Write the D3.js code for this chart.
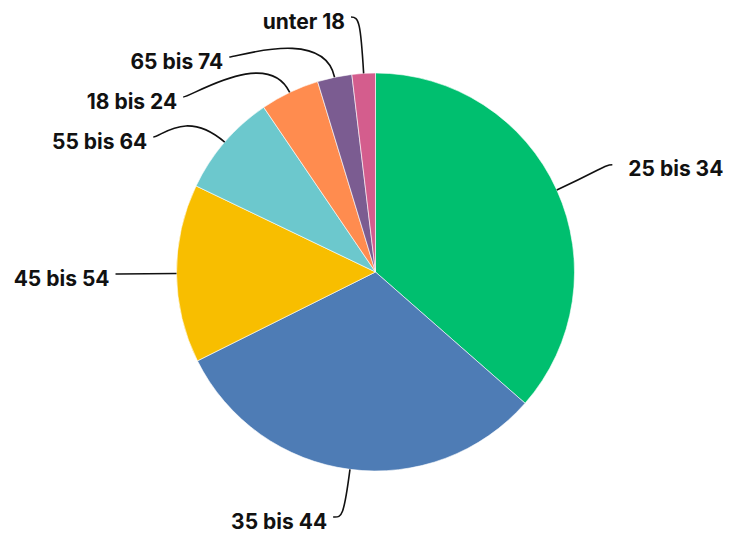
<!DOCTYPE html>
<html>
<head>
  <meta charset="utf-8">
  <style>
    body {margin: 0; background: #fff;}
    svg {display: block;}
    .label {font: 700 21px Inter, "Noto Sans", sans-serif; fill: #111;}
    .leader {fill: none; stroke: #111; stroke-width: 1.6;}
  </style>
</head>
<body>
  <svg width="729" height="539"></svg>
  <script src="https://cdn.jsdelivr.net/npm/d3@7"></script>
  <script>
    // age groups and share in percent
    var groups = ["25 bis 34", "35 bis 44", "45 bis 54", "55 bis 64", "18 bis 24", "65 bis 74", "unter 18"];
    var shares = [36.5, 31.2, 14.5, 8.4, 4.8, 2.8, 1.9];
    var colours = ["#00bf6f", "#4e7cb5", "#f8be00", "#6cc8cd", "#ff8c4f", "#7b5c91", "#d45d8d"];

    var svg = d3.select("svg"),
        cx = 375.5, cy = 272, r = 199,
        rEnd = 260,     // radius where leader lines end
        gap = 40,       // minimum vertical gap between labels
        g = svg.append("g").attr("transform", "translate(" + cx + "," + cy + ")");

    var data = groups.map(function(d, i) { return {name: d, value: shares[i], colour: colours[i]}; });

    var pie = d3.pie().value(function(d) { return d.value; }).sort(null);
    var arc = d3.arc().innerRadius(0).outerRadius(r);
    var arcs = pie(data);

    g.selectAll("path.slice")
        .data(arcs)
      .enter().append("path")
        .attr("class", "slice")
        .attr("d", arc)
        .attr("fill", function(d) { return d.data.colour; })
        .attr("stroke", "#fff")
        .attr("stroke-width", 0.6);

    // label layout: natural spot on circle rEnd, then push apart on each side
    arcs.forEach(function(d) {
      d.mid = (d.startAngle + d.endAngle) / 2;
      d.side = Math.sin(d.mid) >= 0 ? 1 : -1;
      d.ly = -rEnd * Math.cos(d.mid);
      d.lx = rEnd * Math.sin(d.mid);
    });
    var yMin = -cy + 17, yMax = 539 - cy - 22;
    [1, -1].forEach(function(side) {
      var s = arcs.filter(function(d) { return d.side === side; })
                  .sort(function(a, b) { return a.ly - b.ly; });
      var prev = -Infinity;
      s.forEach(function(d) {
        var y = Math.max(d.ly, prev + gap);
        if (y !== d.ly && d.ly < 0 && Math.abs(y) < rEnd) {
          // pushed down by a neighbour: slide along the circle
          d.lx = side * Math.sqrt(rEnd * rEnd - y * y);
        } else if (y < yMin || y > yMax) {
          // clamped at the edge: leave room for the hook
          d.lx += side * 9;
        }
        d.ly = Math.min(Math.max(y, yMin), yMax);
        prev = d.ly;
      });
    });

    g.selectAll("path.leader")
        .data(arcs)
      .enter().append("path")
        .attr("class", "leader")
        .attr("d", function(d) {
          var sx = Math.sin(d.mid), sy = -Math.cos(d.mid),
              p0 = [r * sx, r * sy],
              c1 = [250 * sx, 250 * sy],
              c2 = [d.lx - d.side * 8, d.ly];
          var p = d3.path();
          p.moveTo(p0[0], p0[1]);
          p.bezierCurveTo(c1[0], c1[1], c2[0], c2[1], d.lx, d.ly);
          return p.toString();
        });

    g.selectAll("text.label")
        .data(arcs)
      .enter().append("text")
        .attr("class", "label")
        .attr("x", function(d) { return d.lx + (d.side > 0 ? 16 : -6); })
        .attr("y", function(d) { return d.ly; })
        .attr("dy", "0.55em")
        .attr("text-anchor", function(d) { return d.side > 0 ? "start" : "end"; })
        .text(function(d) { return d.data.name; });
  </script>
</body>
</html>
